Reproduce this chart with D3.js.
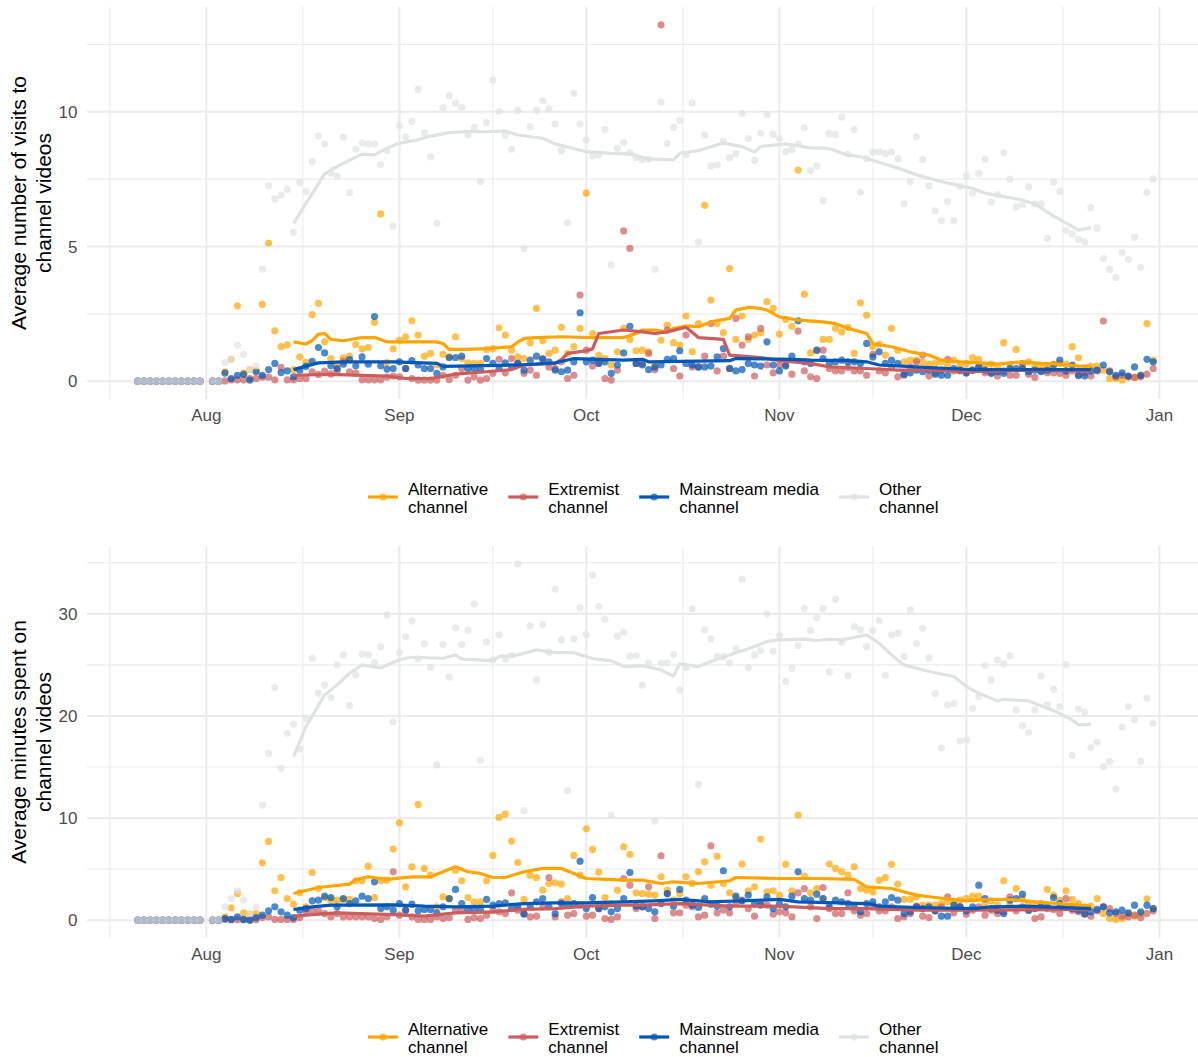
<!DOCTYPE html>
<html>
<head>
<meta charset="utf-8">
<script src="https://cdn.jsdelivr.net/npm/d3@7"></script>
<style>
  body { margin: 0; background: #fff; }
  text { font-family: "Liberation Sans", Arial, Helvetica, sans-serif; }
</style>
</head>
<body>
<div id="chart"></div>
<script>
////////////////////////////////////////////////////////////////////////
// Data: one value per day, 21 Jul -> 31 Dec (Aug 1 missing)

let firstDay = new Date(2018, 6, 21);
let lastDay = new Date(2018, 11, 31);

let seriesKeys = ["alt", "ext", "main", "other"];
let seriesNames = {
  alt: ["Alternative", "channel"],
  ext: ["Extremist", "channel"],
  main: ["Mainstream media", "channel"],
  other: ["Other", "channel"]
};
let seriesColors = { alt: "#FFA500", ext: "#CD5C5C", main: "#0057B7", other: "#DFE2E2" };

// Visits (top panel)
let visitsAlt = [
  0,0,0,0,0,0,0,0,0,0,0,
  null,0,0,0.35,0.81,2.8,0.3,0.43,0.4,2.85,5.13,1.87,1.28,1.35,0.43,0.9,0.7,2.47,2.89,1.46,0.84,0.6,0.87,0.93,1.36,1.2,1.25,2.18,6.21,0.69,1.2,
  1.52,1.65,2.24,1.71,0.93,1.03,0.6,1.0,0.9,1.65,0.84,0.68,0.66,0.66,1.18,1.21,1.98,1.71,1.15,0.9,0.84,1.43,2.7,1.5,1.03,1.15,2.0,1.03,1.28,1.96,
  6.98,1.77,0.97,0.84,0.6,1.09,1.96,1.55,1.13,1.15,1.09,0.56,1.52,2.08,1.43,1.34,2.42,1.09,2.14,6.53,3.01,2.14,1.8,4.18,1.55,2.42,1.55,1.71,1.8,2.95,2.7,
  1.75,2.29,2.04,7.84,3.23,1.05,1.15,1.55,1.55,1.96,1.83,2.0,1.03,2.91,2.45,1.28,1.38,0.97,1.96,1.15,0.72,0.78,0.78,0.72,0.63,0.66,0.72,0.6,0.78,0.6,
  0.66,0.88,0.81,0.6,0.63,0.53,1.43,0.6,1.18,0.53,0.72,0.53,0.53,0.53,0.63,0.66,0.63,1.28,0.87,0.41,0.56,0.56,0.41,0.1,0.1,0.04,0.16,0.14,0.22,2.14,0.78
];
let visitsExt = [
  0,0,0,0,0,0,0,0,0,0,0,
  null,0,0,0.01,0.05,0.05,0.05,0.1,0.1,0.15,0.15,0.05,0.51,0.05,0.05,0.1,0.1,0.35,0.25,0.37,0.27,0.4,0.75,0.35,0.3,0.05,0.05,0.05,0.05,0.15,0.19,
  0.16,0.47,0.1,0.04,0.04,0.04,0.04,0.22,0.06,0.22,0.47,0.04,0.16,0.04,0.1,0.29,0.81,0.31,0.84,0.66,0.29,0.41,0.22,0.84,0.53,0.47,0.72,0.1,0.22,3.2,
  1.15,0.56,0.68,0.1,0.04,0.41,5.58,4.93,0.66,0.66,1.03,0.43,13.23,1.9,0.47,0.19,1.71,0.53,0.53,0.93,2.14,0.38,0.93,0.47,2.33,1.34,1.65,0.19,1.96,0.6,0.31,
  0.6,0.6,0.26,1.86,0.38,0.16,0.1,1.15,0.47,0.38,0.38,0.51,0.38,0.38,0.22,1.0,0.38,0.31,0.53,0.16,0.22,0.53,0.72,0.97,0.19,0.31,0.41,0.81,0.38,0.38,
  0.31,0.41,0.53,0.31,0.31,0.19,0.38,0.22,0.22,0.66,0.26,0.14,0.38,0.31,0.31,0.29,0.22,0.38,0.22,0.31,0.19,0.38,2.23,0.38,0.16,0.22,0.16,0.14,0.16,0.26,0.47
];
let visitsMain = [
  0,0,0,0,0,0,0,0,0,0,0,
  null,0,0,0.3,0.1,0.22,0.25,0.04,0.35,0.22,0.43,0.66,0.32,0.38,0.16,0.41,0.55,0.74,1.25,1.05,0.57,0.47,0.63,0.8,0.57,0.9,0.63,2.4,0.57,0.45,0.47,
  0.72,0.47,0.76,0.6,0.47,0.47,0.29,0.53,0.88,0.88,0.93,0.47,0.47,0.43,0.84,0.66,0.47,0.68,0.53,0.66,0.41,0.78,0.93,0.81,0.72,0.41,0.35,0.41,0.72,2.54,
  0.72,0.78,0.66,0.72,0.29,0.6,1.05,2.04,0.66,0.6,0.43,0.53,0.6,0.81,0.84,1.13,0.66,0.6,0.53,0.53,0.56,0.9,1.21,0.47,0.38,0.43,0.66,0.6,0.56,1.46,0.6,
  0.38,0.56,0.93,2.24,0.72,0.66,1.15,0.84,0.66,0.72,0.78,0.72,0.72,0.66,1.4,0.9,1.09,0.66,0.78,0.66,0.26,0.31,0.41,0.35,0.41,0.26,0.22,0.22,0.47,0.41,
  0.31,0.41,0.53,0.41,0.29,0.35,0.29,0.47,0.47,0.47,0.35,0.41,0.35,0.41,0.6,0.78,0.38,0.6,0.22,0.19,0.38,0.41,0.6,0.35,0.22,0.31,0.19,0.53,0.22,0.81,0.72
];
let visitsOther = [
  0,0,0,0,0,0,0,0,0,0,0,
  null,0,0,0.69,0.8,1.33,0.99,0.45,0.56,4.16,7.26,6.77,6.9,7.13,5.53,7.37,7.04,8.15,9.1,8.81,7.72,7.62,9.06,7.0,8.61,8.84,8.81,8.81,8.04,8.56,5.76,
  9.49,9.07,9.64,10.83,9.22,8.33,5.86,10.16,10.6,10.32,10.17,9.16,9.42,7.41,9.6,11.18,10.01,9.13,8.61,10.05,4.92,9.45,10.06,10.41,10.11,9.54,8.55,5.88,10.68,9.54,
  8.95,8.36,8.41,9.34,4.31,8.64,8.86,8.49,8.3,8.22,8.24,4.16,10.36,8.82,9.43,9.69,8.4,10.33,5.16,9.14,7.99,8.03,8.91,8.3,8.45,9.94,9.01,8.19,9.21,9.89,9.17,
  9.01,8.52,8.59,8.81,9.41,7.82,7.99,6.7,9.19,9.16,9.81,8.43,9.34,7.01,8.26,8.51,8.51,8.45,8.51,8.26,6.59,7.41,9.07,8.23,7.26,6.32,5.96,6.67,5.96,7.22,
  7.62,6.98,7.71,8.24,6.65,6.93,8.48,7.5,6.47,6.55,7.21,6.58,6.58,5.3,7.39,7.05,5.59,5.46,5.27,5.18,6.44,5.68,4.55,4.15,3.85,4.77,4.52,5.35,4.23,7.01,7.51
];

// Minutes (bottom panel)
let minutesAlt = [
  0,0,0,0,0,0,0,0,0,0,0,
  null,0,0,0.33,1.21,2.61,0.72,0.59,0.65,5.62,7.71,2.88,4.18,2.12,1.57,2.71,1.3,4.67,3.1,2.22,1.96,1.96,2.03,2.03,3.86,3.86,5.29,2.22,3.86,3.92,6.96,
  9.54,3.27,5.23,11.34,5.07,4.41,1.31,2.29,2.12,4.9,3.86,2.22,1.8,1.8,3.86,6.34,10.07,10.39,7.75,5.65,2.03,4.41,4.18,2.94,3.59,3.66,3.53,2.12,6.34,4.41,
  8.95,6.93,4.71,2.22,1.63,2.94,7.19,6.44,2.68,2.61,2.55,2.45,4.25,2.94,1.96,2.61,4.25,3.6,4.74,5.72,3.43,6.27,3.59,2.68,2.22,5.49,2.88,3.27,7.94,2.78,2.88,
  2.45,5.46,2.88,10.29,4.31,2.68,3.1,2.12,5.49,5.07,4.74,4.41,5.23,3.1,2.94,2.78,3.92,4.18,5.46,3.53,2.03,2.03,2.29,1.47,1.47,1.47,1.63,1.8,1.63,1.96,
  2.12,2.35,2.35,1.7,1.9,1.47,3.86,1.47,3.1,2.12,1.63,1.31,1.63,3.01,2.45,1.96,2.88,2.03,1.63,1.31,1.37,2.12,0.65,0.16,0.07,0.16,0.65,0.39,0.65,2.09,1.14
];
let minutesExt = [
  0,0,0,0,0,0,0,0,0,0,0,
  null,0,0,0.07,0.05,0.05,0.05,0.05,0.05,0.26,0.33,0.07,0.07,0.07,0.07,0.26,0.92,0.92,0.92,0.65,0.33,0.65,0.33,0.33,0.33,0.33,0.33,0.16,0.07,0.33,4.74,
  0.49,0.98,0.33,0.07,0.07,0.07,0.33,0.16,0.26,0.98,0.98,0.07,0.26,0.16,0.49,0.98,0.82,0.65,2.68,0.98,0.65,0.33,0.39,1.31,4.18,0.33,1.8,0.49,0.65,1.47,
  0.39,0.49,1.14,0.16,0.07,0.33,4.08,3.43,1.14,1.31,3.27,0.16,6.31,2.61,0.72,0.72,1.47,1.31,0.33,0.49,7.29,0.72,1.0,0.72,1.63,1.96,1.14,0.39,1.63,1.47,0.59,
  0.82,0.72,0.33,2.68,3.1,1.31,0.16,3.2,1.14,0.65,0.65,2.68,0.92,0.49,0.65,1.47,0.92,0.92,1.31,0.16,0.33,0.65,1.37,0.39,0.26,0.92,1.31,2.29,0.72,1.31,
  0.59,0.98,1.31,0.49,0.98,0.65,0.82,2.29,0.92,1.31,0.98,0.16,0.33,1.14,1.05,0.65,2.12,0.98,0.82,0.65,0.39,0.92,1.31,1.14,0.65,0.39,0.33,0.49,0.26,0.65,0.92
];
let minutesMain = [
  0,0,0,0,0,0,0,0,0,0,0,
  null,0,0,0.16,0.07,0.33,0.07,0,0.26,0.49,0.92,1.31,0.82,0.49,0.26,0.98,1.14,1.9,1.96,2.35,2.22,1.31,2.12,1.63,1.9,2.35,2.12,3.76,1.14,1.31,0.98,
  1.63,0.98,1.57,0.92,1.05,1.05,0.72,1.31,2.12,3.01,1.63,1.05,1.14,1.05,2.03,1.47,1.63,1.7,1.14,1.31,0.59,1.31,1.8,2.12,1.31,0.65,1.63,1.47,1.63,5.78,
  1.14,2.22,1.14,1.31,0.82,1.14,2.12,4.67,1.37,1.31,1.14,0.82,1.63,2.61,1.37,3.01,1.96,1.47,1.24,2.12,1.57,1.37,4.84,1.31,2.35,1.9,2.45,1.63,1.47,2.29,1.14,
  1.57,1.31,2.35,4.74,2.12,1.96,2.55,2.12,1.31,1.96,1.8,1.63,1.31,0.82,1.63,1.8,1.31,1.8,2.22,1.96,0.65,0.82,1.31,1.14,1.31,0.92,0.39,0.39,1.47,1.31,
  0.92,1.31,3.43,2.12,1.14,0.98,0.65,1.96,2.12,2.55,0.98,1.14,1.31,1.31,2.22,1.63,1.31,1.14,0.98,0.59,0.82,1.05,1.31,0.72,0.82,0.98,0.72,1.47,0.82,1.47,1.14
];
let minutesOther = [
  0,0,0,0,0,0,0,0,0,0,0,
  null,0,0,1.3,2.12,2.88,1.96,0.65,1.3,11.27,16.34,22.78,14.87,18.3,19.2,16.76,19.77,25.65,22.22,23.04,21.83,25.0,25.98,21.01,24.02,26.08,25.98,25.23,26.8,29.9,19.44,
  26.2,27.75,29.31,25.59,27.06,24.77,15.2,26.99,23.82,28.63,26.99,28.4,30.98,15.65,27.25,25.49,27.94,25.59,25.92,34.9,10.72,28.82,23.53,28.95,26.27,32.42,27.45,12.68,27.55,30.59,
  27.97,33.79,30.72,29.48,10.29,27.81,28.2,25.85,25.92,23.0,25.16,9.71,25.16,25.2,26.01,22.55,24.74,30.49,13.3,28.43,27.55,25.82,25.82,25.2,26.57,33.4,24.74,25.98,26.4,30.0,26.34,
  27.88,23.4,24.64,26.9,30.52,28.37,29.64,30.52,24.31,31.41,27.22,23.95,28.76,28.43,26.8,28.37,29.35,23.99,27.94,28.1,25.82,30.39,27.09,28.56,25.69,22.19,16.86,21.08,21.24,17.55,
  17.65,20.75,21.9,24.93,23.53,25.49,25.1,25.88,20.59,19.02,18.37,20.59,23.92,21.08,22.61,20.92,25.03,16.14,20.69,20.39,16.9,17.42,15.03,15.52,12.84,18.92,20.92,19.64,15.56,21.76,19.28
];

// Smoothed lines (month-day, value), 15 Aug -> 21 Dec
let visitsAltLine = [["08-15",1.46],["08-17",1.38],["08-18",1.5],["08-19",1.75],["08-20",1.77],["08-21",1.55],["08-23",1.5],["08-26",1.62],["08-28",1.62],["08-30",1.46],["09-07",1.46],["09-08",1.4],["09-09",1.18],["09-12",1.18],["09-15",1.21],["09-19",1.28],["09-20",1.45],["09-21",1.59],["09-23",1.62],["09-27",1.65],["10-02",1.62],["10-07",1.62],["10-09",1.77],["10-10",1.9],["10-12",1.9],["10-14",1.83],["10-15",1.96],["10-17",2.05],["10-19",2.02],["10-21",2.2],["10-24",2.33],["10-25",2.64],["10-27",2.74],["10-29",2.7],["10-30",2.64],["11-01",2.39],["11-04",2.27],["11-08",2.2],["11-10",2.14],["11-12",1.96],["11-15",1.77],["11-16",1.4],["11-19",1.28],["11-22",1.09],["11-25",0.97],["11-27",0.78],["11-30",0.72],["12-03",0.68],["12-06",0.63],["12-10",0.72],["12-13",0.66],["12-16",0.63],["12-19",0.56],["12-21",0.56]];
let visitsExtLine = [["08-15",0.22],["08-21",0.25],["08-30",0.19],["09-02",0.1],["09-06",0.1],["09-10",0.26],["09-15",0.35],["09-19",0.43],["09-21",0.6],["09-26",0.66],["09-27",0.8],["09-28",1.03],["10-01",1.13],["10-02",1.2],["10-03",1.77],["10-07",1.9],["10-10",1.83],["10-12",1.77],["10-14",1.83],["10-17",2.0],["10-19",1.62],["10-23",1.55],["10-24",0.97],["10-29",0.88],["11-01",0.76],["11-06",0.66],["11-09",0.53],["11-15",0.47],["11-20",0.41],["11-25",0.41],["12-02",0.35],["12-10",0.41],["12-21",0.38]];
let visitsMainLine = [["08-15",0.43],["08-17",0.56],["08-19",0.68],["08-23",0.72],["08-31",0.72],["09-07",0.66],["09-08",0.55],["09-20",0.6],["09-26",0.68],["09-29",0.84],["10-07",0.78],["10-10",0.81],["10-11",0.72],["10-24",0.76],["10-25",0.84],["11-03",0.81],["11-06",0.78],["11-12",0.76],["11-15",0.72],["11-17",0.6],["11-23",0.53],["11-28",0.47],["12-02",0.43],["12-21",0.43]];
let visitsOtherLine = [["08-15",5.86],["08-20",7.7],["08-21",7.84],["08-23",8.09],["08-26",8.43],["08-28",8.4],["08-30",8.65],["09-01",8.84],["09-04",8.96],["09-06",9.1],["09-09",9.23],["09-12",9.27],["09-15",9.26],["09-18",9.29],["09-20",9.14],["09-24",9.02],["09-26",8.81],["09-28",8.69],["10-01",8.52],["10-05",8.46],["10-08",8.44],["10-11",8.25],["10-15",8.22],["10-16",8.46],["10-19",8.56],["10-23",8.84],["10-26",8.71],["10-28",8.51],["10-29",8.71],["11-02",8.81],["11-06",8.66],["11-09",8.64],["11-12",8.39],["11-14",8.34],["11-17",8.13],["11-20",7.91],["11-23",7.66],["11-26",7.47],["11-30",7.25],["12-02",7.16],["12-04",6.98],["12-07",6.85],["12-10",6.73],["12-12",6.58],["12-15",6.13],["12-17",5.88],["12-19",5.61],["12-21",5.7]];

let minutesAltLine = [["08-15",2.61],["08-19",3.2],["08-24",3.53],["08-25",3.99],["08-27",4.25],["08-30",3.99],["09-03",4.25],["09-06",4.25],["09-08",4.74],["09-10",5.23],["09-12",4.74],["09-14",4.58],["09-16",4.18],["09-18",4.18],["09-21",4.74],["09-24",5.07],["09-27",5.07],["09-29",4.58],["10-01",4.08],["10-07",3.92],["10-10",3.92],["10-13",3.59],["10-15",3.76],["10-19",3.59],["10-24",3.86],["10-25",4.18],["11-01",4.08],["11-07",4.08],["11-13",3.99],["11-15",3.27],["11-19",3.1],["11-23",2.45],["11-26",2.22],["12-01",1.9],["12-05",2.03],["12-08",2.03],["12-12",1.8],["12-16",1.63],["12-21",1.37]];
let minutesExtLine = [["08-15",0.39],["08-20",0.65],["08-22",0.72],["08-31",0.55],["09-05",0.39],["09-10",0.72],["09-16",0.82],["09-21",1.05],["09-26",1.14],["10-01",1.37],["10-07",1.47],["10-10",1.47],["10-16",1.63],["10-24",1.37],["11-01",1.37],["11-09",1.14],["11-15",1.14],["11-23",0.98],["12-02",0.98],["12-21",1.05]];
let minutesMainLine = [["08-15",1.05],["08-18",1.31],["08-21",1.47],["08-31",1.5],["09-05",1.37],["09-10",1.31],["09-16",1.37],["09-21",1.63],["09-26",1.7],["10-01",1.7],["10-07",1.8],["10-12",1.9],["10-16",2.03],["10-21",1.8],["11-01",2.03],["11-04",1.8],["11-15",1.63],["11-17",1.37],["11-23",1.24],["12-02",1.14],["12-05",1.31],["12-10",1.37],["12-21",1.14]];
let minutesOtherLine = [["08-15",16.01],["08-17",18.95],["08-20",22.06],["08-22",23.04],["08-24",24.18],["08-26",25.0],["08-29",24.7],["09-01",25.5],["09-03",25.75],["09-08",25.65],["09-10",25.98],["09-11",25.56],["09-16",25.42],["09-17",25.82],["09-20",25.98],["09-23",26.47],["09-26",26.2],["09-29",26.2],["10-02",25.62],["10-05",25.42],["10-07",24.84],["10-10",24.93],["10-13",24.5],["10-15",23.92],["10-16",25.1],["10-19",24.84],["10-21",25.33],["10-24",25.98],["10-28",26.8],["10-30",27.29],["11-01",27.45],["11-05",27.52],["11-07",27.39],["11-09",27.52],["11-11",27.45],["11-15",27.94],["11-17",27.12],["11-19",25.98],["11-21",25.0],["11-25",24.35],["11-29",23.86],["12-01",22.9],["12-03",22.22],["12-06",21.47],["12-07",21.63],["12-11",21.47],["12-14",20.75],["12-16",20.26],["12-18",19.6],["12-19",19.12],["12-21",19.18]];

////////////////////////////////////////////////////////////////////////
// SVG Setup

let width = 1198, height = 1057;
let plotLeft = 87, plotRight = 1204;
let pointRadius = 3.6;

let svg = d3.select("#chart")
  .append("svg")
  .attr("width", width).attr("height", height);

let days = d3.timeDay.range(firstDay, d3.timeDay.offset(lastDay, 1));
let pad = (lastDay - firstDay) * 0.05;

let xScale = d3.scaleTime()
  .domain([new Date(+firstDay - pad), new Date(+lastDay + pad)])
  .range([plotLeft, plotRight]);

let parseMD = md => d3.timeParse("%Y-%m-%d")("2018-" + md);

let panels = [
  {
    top: 7, bottom: 399, legendY: 497,
    title: ["Average number of visits to", "channel videos"],
    points: { alt: visitsAlt, ext: visitsExt, main: visitsMain, other: visitsOther },
    lines: { alt: visitsAltLine, ext: visitsExtLine, main: visitsMainLine, other: visitsOtherLine }
  },
  {
    top: 546, bottom: 938, legendY: 1037,
    title: ["Average minutes spent on", "channel videos"],
    points: { alt: minutesAlt, ext: minutesExt, main: minutesMain, other: minutesOther },
    lines: { alt: minutesAltLine, ext: minutesExtLine, main: minutesMainLine, other: minutesOtherLine }
  }
];

panels.forEach(p => seriesKeys.forEach(k => {
  if (p.points[k].length !== days.length) throw new Error(k + " length " + p.points[k].length);
}));

////////////////////////////////////////////////////////////////////////
// Draw each panel

let monthTicks = d3.timeMonth.range(new Date(2018, 7, 1), new Date(2019, 0, 2));
let monthAll = d3.timeMonth.range(new Date(2018, 6, 1), new Date(2019, 1, 2));
let minorX = d3.pairs(monthAll, (a, b) => new Date((+a + +b) / 2))
  .filter(d => xScale(d) >= plotLeft && xScale(d) <= plotRight);

panels.forEach(p => {
  let allVals = [];
  seriesKeys.forEach(k => {
    p.points[k].forEach(v => { if (v != null) allVals.push(v); });
    p.lines[k].forEach(d => allVals.push(d[1]));
  });
  let ext = d3.extent(allVals);
  let ypad = (ext[1] - ext[0]) * 0.05;
  let yScale = d3.scaleLinear()
    .domain([ext[0] - ypad, ext[1] + ypad])
    .range([p.bottom, p.top]);

  let yTicks = yScale.ticks(4);
  let step = yTicks[1] - yTicks[0];
  let minorY = yTicks.map(t => t + step / 2).concat([yTicks[0] - step / 2])
    .filter(t => t >= yScale.domain()[0] && t <= yScale.domain()[1]);

  let g = svg.append("g");

  // gridlines
  g.selectAll(".minorY").data(minorY).enter().append("line")
    .attr("x1", plotLeft).attr("x2", plotRight)
    .attr("y1", d => yScale(d)).attr("y2", d => yScale(d))
    .style("stroke", "#EBEBEB").style("stroke-width", 1.1);
  g.selectAll(".minorX").data(minorX).enter().append("line")
    .attr("x1", d => xScale(d)).attr("x2", d => xScale(d))
    .attr("y1", p.top).attr("y2", p.bottom)
    .style("stroke", "#EBEBEB").style("stroke-width", 1.1);
  g.selectAll(".majorY").data(yTicks).enter().append("line")
    .attr("x1", plotLeft).attr("x2", plotRight)
    .attr("y1", d => yScale(d)).attr("y2", d => yScale(d))
    .style("stroke", "#EBEBEB").style("stroke-width", 2.1);
  g.selectAll(".majorX").data(monthTicks).enter().append("line")
    .attr("x1", d => xScale(d)).attr("x2", d => xScale(d))
    .attr("y1", p.top).attr("y2", p.bottom)
    .style("stroke", "#EBEBEB").style("stroke-width", 2.1);

  // axis labels
  g.selectAll(".xlab").data(monthTicks).enter().append("text")
    .attr("x", d => xScale(d)).attr("y", p.bottom + 22)
    .attr("text-anchor", "middle")
    .style("font-size", "17px").style("fill", "#4D4D4D")
    .text(d3.timeFormat("%b"));
  g.selectAll(".ylab").data(yTicks).enter().append("text")
    .attr("x", 77.5).attr("y", d => yScale(d)).attr("dy", "0.36em")
    .attr("text-anchor", "end")
    .style("font-size", "17px").style("fill", "#4D4D4D")
    .text(d => d);

  // y title, two lines
  let cy = (p.top + p.bottom) / 2;
  p.title.forEach((t, i) => {
    g.append("text")
      .attr("transform", `translate(${26 + i * 24.5},${cy}) rotate(-90)`)
      .attr("text-anchor", "middle")
      .style("font-size", "21px").style("fill", "#000")
      .text(t);
  });

  // points
  seriesKeys.forEach(k => {
    let pts = days.map((d, i) => ({ date: d, value: p.points[k][i] })).filter(d => d.value != null);
    g.append("g").selectAll("circle").data(pts).enter().append("circle")
      .attr("cx", d => xScale(d.date))
      .attr("cy", d => yScale(d.value))
      .attr("r", pointRadius)
      .style("fill", seriesColors[k])
      .style("opacity", 0.7);
  });

  // smoothed lines
  let line = d3.line().x(d => xScale(parseMD(d[0]))).y(d => yScale(d[1]));
  seriesKeys.forEach(k => {
    g.append("path")
      .attr("d", line(p.lines[k]))
      .style("fill", "none")
      .style("stroke", seriesColors[k])
      .style("stroke-width", 3.2)
      .style("stroke-linejoin", "round");
  });

  // legend
  let lx = 368;
  seriesKeys.forEach(k => {
    let lg = g.append("g").attr("transform", `translate(${lx},${p.legendY})`);
    lg.append("line").attr("x1", 0).attr("x2", 30).attr("y1", 0).attr("y2", 0)
      .style("stroke", seriesColors[k]).style("stroke-width", 3.2);
    lg.append("circle").attr("cx", 15).attr("cy", 0).attr("r", pointRadius)
      .style("fill", seriesColors[k]).style("opacity", 0.7);
    let txt = lg.append("text").attr("x", 40).attr("y", -2)
      .style("font-size", "17px").style("fill", "#000");
    seriesNames[k].forEach((s, i) => {
      txt.append("tspan").attr("x", 40).attr("dy", i === 0 ? 0 : 18).text(s);
    });
    lx += 40 + d3.max(txt.selectAll("tspan").nodes(), n => n.getComputedTextLength()) + 20;
  });
});
</script>
</body>
</html>
